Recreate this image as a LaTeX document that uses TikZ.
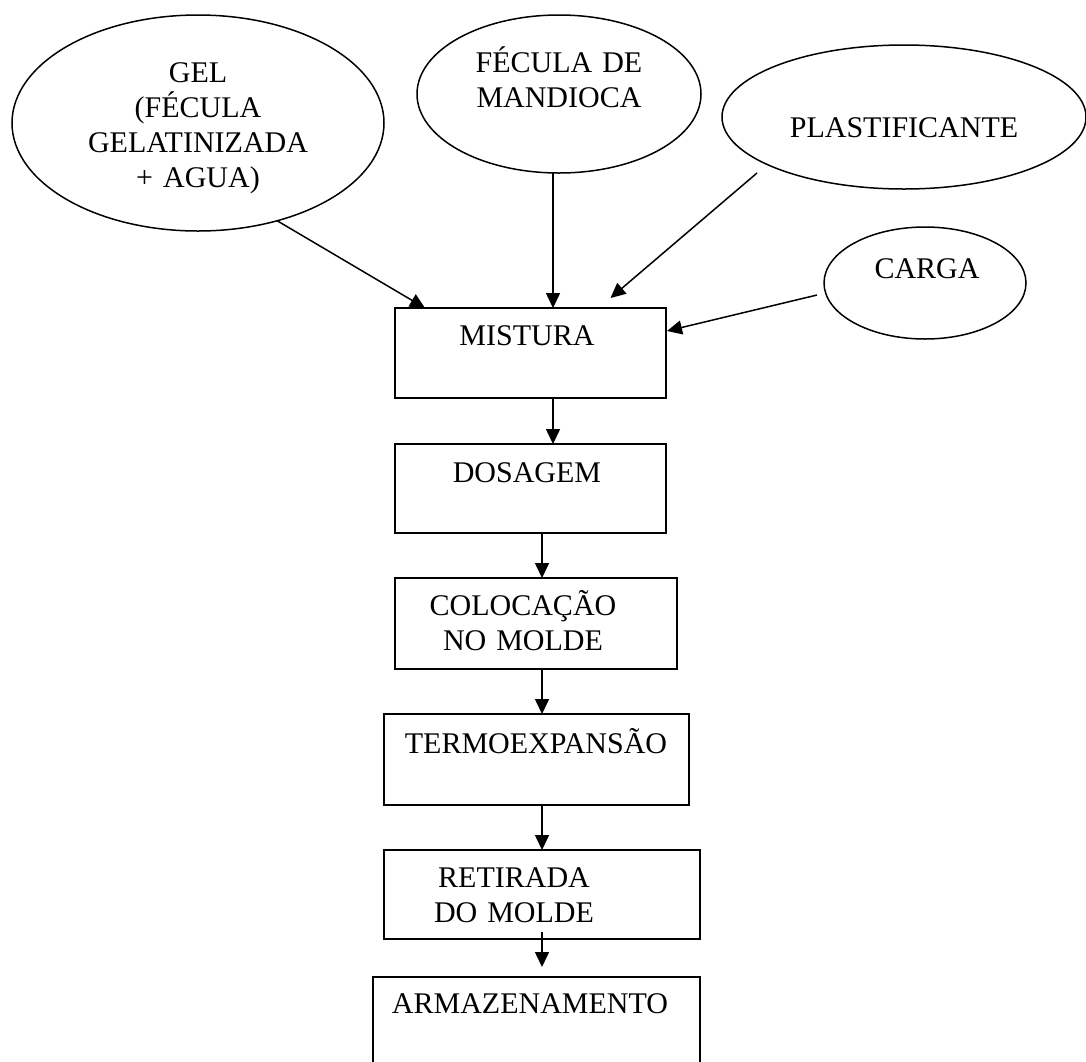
\documentclass[tikz,border=0pt]{standalone}
\usepackage{fontspec}
\setmainfont{Liberation Serif}
\usetikzlibrary{shapes.geometric,arrows.meta,calc}
\begin{document}
\begin{tikzpicture}[x=1pt,y=-1pt,
  every node/.style={inner sep=0pt, outer sep=0pt},
  stepbox/.style={draw, line width=1.5pt, rectangle},
  ingr/.style={draw, line width=1.5pt, ellipse},
  lbl/.style={font=\fontsize{30}{35}\selectfont, anchor=base},
  mlbl/.style={lbl, text width=340pt, align=center},
  flow/.style={line width=1.5pt, -{Triangle[length=15pt,width=14pt]}}]
\useasboundingbox (0,0) rectangle (1086,1061);
\clip (0,0) rectangle (1086,1061);
\fill[white] (0,0) rectangle (1086,1061);
% ingredients
\node[ingr, minimum width=372pt, minimum height=216pt] (gel) at (198,123) {};
\node[ingr, minimum width=284pt, minimum height=158pt] (fec) at (559,94) {};
\node[ingr, minimum width=364pt, minimum height=144pt] (plast) at (904,117) {};
\node[ingr, minimum width=202pt, minimum height=112pt] (carga) at (925,283) {};
% steps
\node[stepbox, minimum width=271pt, minimum height=90pt] (mist) at (530.5,353) {};
\node[stepbox, minimum width=271pt, minimum height=89pt] (dos) at (530.5,488.5) {};
\node[stepbox, minimum width=282pt, minimum height=91pt] (col) at (536,623.5) {};
\node[stepbox, minimum width=305pt, minimum height=91pt] (termo) at (536.5,759.5) {};
\node[stepbox, minimum width=316pt, minimum height=89pt] (ret) at (542,894.5) {};
\node[stepbox, minimum width=327pt, minimum height=93pt] (arm) at (536.5,1023.5) {};
% labels
\node[mlbl] (tgel) at (198,82) {GEL\\(FÉCULA\\GELATINIZADA\\+ AGUA)};
\node[mlbl] (tfec) at (559,72) {FÉCULA DE\\MANDIOCA};
\node[lbl] (tplast) at (904,137) {PLASTIFICANTE};
\node[lbl] (tcarga) at (927,278) {CARGA};
\node[lbl] (tmist) at (527,345) {MISTURA};
\node[lbl] (tdos) at (527,482) {DOSAGEM};
\node[mlbl] (tcol) at (523,615) {COLOCAÇÃO\\NO MOLDE};
\node[lbl] (ttermo) at (536,753) {TERMOEXPANSÃO};
\node[mlbl] (tret) at (514,887) {RETIRADA\\DO MOLDE};
\node[lbl] (tarm) at (530,1013) {ARMAZENAMENTO};
% connectors
\draw[flow] (gel.-51) -- ($(mist.north west)+(30,0)$);
\draw[flow] ($(fec.south)+(-6,0)$) -- ($(mist.north)+(22.5,0)$);
\draw[flow] ($(plast.center)+(-147,56)$) -- ($(mist.north)+(80,-10)$);
\draw[flow] ($(carga.center)+(-108,12)$) -- ($(mist.east)+(1,-22)$);
\draw[flow] ($(mist.south)+(22.5,0)$) -- ($(dos.north)+(22.5,0)$);
\draw[flow] ($(dos.south)+(11.5,0)$) -- ($(col.north)+(6,0)$);
\draw[flow] ($(col.south)+(6,0)$) -- ($(termo.north)+(5.5,0)$);
\draw[flow] ($(termo.south)+(5.5,0)$) -- (ret.north);
\draw[flow] ($(ret.south)+(0,-7)$) -- ($(arm.north)+(5.5,-10)$);
\end{tikzpicture}
\end{document}
